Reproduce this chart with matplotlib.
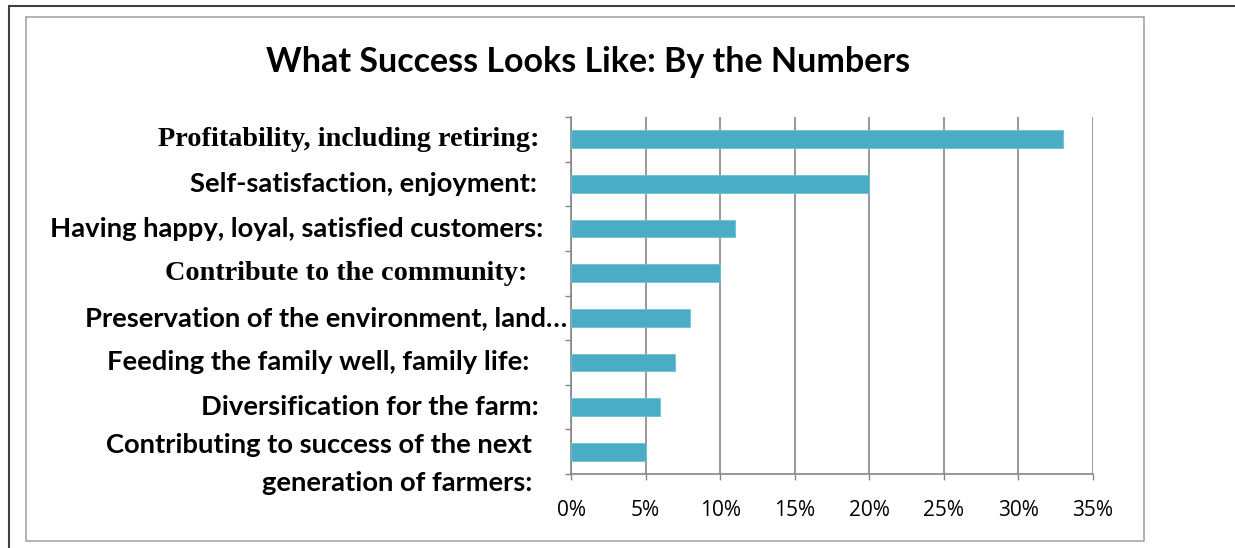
import matplotlib
matplotlib.use("Agg")
import matplotlib.pyplot as plt
from matplotlib.patches import Rectangle
from matplotlib.ticker import FuncFormatter, FixedLocator
import matplotlib.transforms as mtransforms

# ---------------- data ----------------
title = "What Success Looks Like: By the Numbers"
categories = [
    "Profitability, including retiring:",
    "Self-satisfaction, enjoyment:",
    "Having happy, loyal, satisfied customers:",
    "Contribute to the community:",
    "Preservation of the environment, land\u2026",
    "Feeding the family well, family life:",
    "Diversification for the farm:",
    "Contributing to success of the next\ngeneration of farmers:",
]
values = [0.33, 0.20, 0.11, 0.10, 0.08, 0.07, 0.06, 0.05]
xticks = [0.0, 0.05, 0.10, 0.15, 0.20, 0.25, 0.30, 0.35]

# ---------------- styles / layout ----------------
W, H = 1235, 548
BAR = "#4BACC6"
GRID = "#868686"
serif_labels = {0, 3}
# right edge of each label (px from figure left) and vertical nudge (px, down)
label_right_px = [540, 537, 543, 527, 567, 529, 539, 532]
label_dy_px = [0, 0, 0, 0, 0, 0, 0, 12]

fig = plt.figure(figsize=(W / 100, H / 100), dpi=100)
ax = fig.add_axes([571 / W, 1 - 474 / H, (1093 - 571) / W, (474 - 117) / H])

y = list(range(len(categories)))
ax.barh(y, values, height=0.4, color=BAR, edgecolor="#6cc0d6", linewidth=0.6, zorder=3)
ax.set_xlim(0, 0.35)
ax.set_ylim(len(categories) - 0.5, -0.5)

ax.set_xticks(xticks)
ax.xaxis.set_major_formatter(FuncFormatter(lambda v, p: f"{round(v * 100)}%"))
ax.set_yticks([])
ax.yaxis.set_minor_locator(FixedLocator([i - 0.5 for i in range(len(categories) + 1)]))
ax.tick_params(axis="y", which="minor", length=4, width=1.0, color=GRID, direction="out")
ax.tick_params(axis="x", which="major", length=4, width=1.0, color=GRID, direction="out",
               pad=15, labelsize=16, labelcolor="#000000")
for lbl in ax.get_xticklabels():
    lbl.set_fontfamily("Open Sans")

ax.grid(axis="x", color=GRID, linewidth=1.2, zorder=0)
for s in ["top", "right"]:
    ax.spines[s].set_visible(False)
for s in ["left", "bottom"]:
    ax.spines[s].set_color(GRID)
    ax.spines[s].set_linewidth(1.2)

# category labels
label_texts = []
for i, cat in enumerate(categories):
    fam = "Liberation Serif" if i in serif_labels else "Lato"
    trans = mtransforms.blended_transform_factory(fig.transFigure, ax.transData) + \
        mtransforms.ScaledTranslation(0, -label_dy_px[i] / 100, fig.dpi_scale_trans)
    t = ax.text(label_right_px[i] / W, i, cat, transform=trans, ha="right", va="center",
                fontsize=15, fontweight="bold", family=fam, linespacing=1.7,
                color="#000000")
    label_texts.append(t)

# title
ttl = fig.text(588 / W, 1 - 62 / H, title, ha="center", va="center",
               fontsize=20, fontweight="bold", family="Lato")

# fit text sizes to reference widths
fig.canvas.draw()
r = fig.canvas.get_renderer()
def fit(t, target):
    w = t.get_window_extent(r).width
    t.set_fontsize(t.get_fontsize() * target / w)
fit(ttl, 644)
fit(label_texts[2], 495)
fit(label_texts[0], 382)
sans = label_texts[2].get_fontsize()
ser = label_texts[0].get_fontsize()
for i, t in enumerate(label_texts):
    t.set_fontsize(ser if i in serif_labels else sans)
xl = ax.get_xticklabels()
w35 = xl[-1].get_window_extent(r).width
for lbl in xl:
    lbl.set_fontsize(lbl.get_fontsize() * 41 / w35)

# frames
fig.add_artist(Rectangle((9 / W, -0.1), 1.2, 1.1 - 6 / H, transform=fig.transFigure,
                         fill=False, edgecolor="#404040", linewidth=1.5))
fig.add_artist(Rectangle((26 / W, 1 - 541 / H), (1144 - 26) / W, (541 - 17) / H,
                         transform=fig.transFigure, fill=False, edgecolor="#a6a6a6",
                         linewidth=1.2))

fig.savefig("out.png", dpi=100)
